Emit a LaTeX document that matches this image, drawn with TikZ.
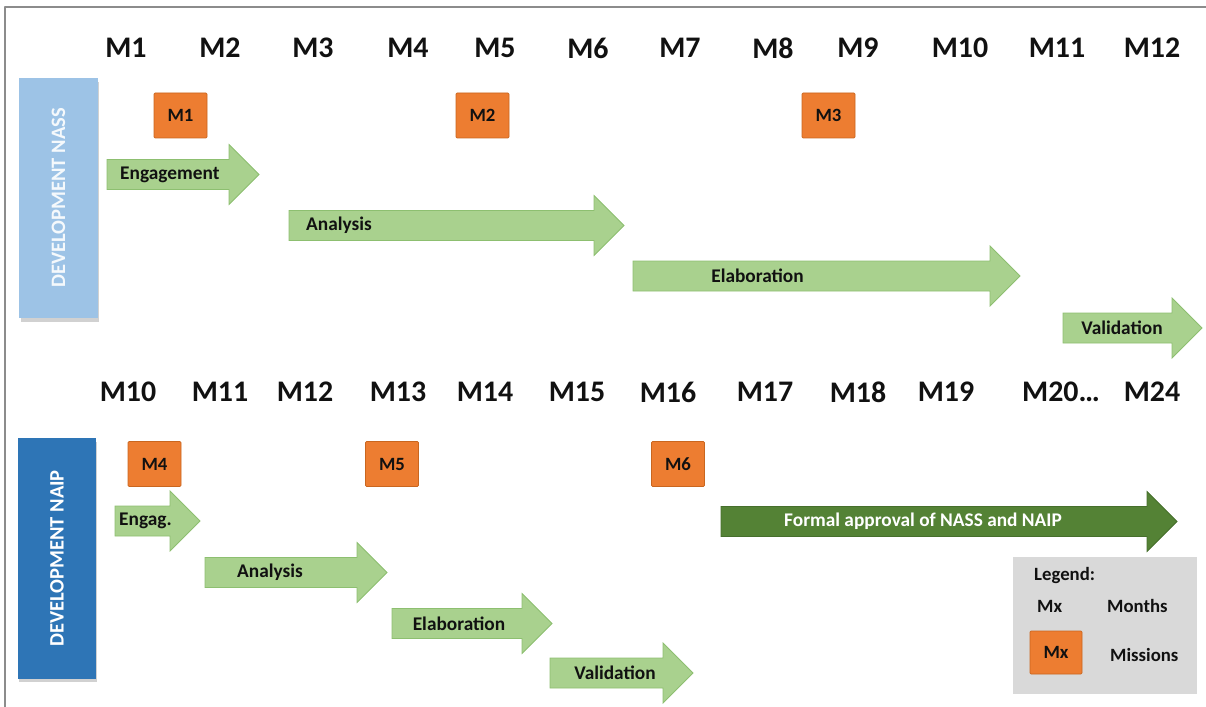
\documentclass[tikz,border=0pt]{standalone}
\usepackage{fontspec}
\setmainfont{Carlito}
\usetikzlibrary{shadows}
\definecolor{ink}{HTML}{111111}
\definecolor{frame}{HTML}{8C8C8C}
\definecolor{nassblue}{HTML}{9DC3E6}
\definecolor{naipblue}{HTML}{2E75B6}
\definecolor{missionfill}{HTML}{ED7D31}
\definecolor{missionline}{HTML}{C9661F}
\definecolor{phasefill}{HTML}{A9D18E}
\definecolor{phaseline}{HTML}{8DBF70}
\definecolor{approvalfill}{HTML}{548235}
\definecolor{approvalline}{HTML}{466F2C}
\definecolor{legendgray}{HTML}{D9D9D9}
\tikzset{
  month/.style={font=\bfseries\fontsize{25.5}{28}\selectfont, text=ink, inner sep=0pt},
  devbar/.style={rotate=90, minimum width=7.2cm, minimum height=2.34cm, inner sep=0pt,
    font=\bfseries\fontsize{17.5}{19}\selectfont,
    drop shadow={shadow xshift=1.2pt, shadow yshift=-3pt, opacity=0.3, fill=black!60}},
  missionbox/.style={draw=missionline, fill=missionfill, line width=0.6pt, rounded corners=1pt,
    minimum width=1.59cm, minimum height=1.35cm, inner sep=0pt,
    font=\bfseries\fontsize{16}{18}\selectfont, text=ink},
  phase/.style={draw=phaseline, fill=phasefill, line width=0.7pt, line join=miter},
  approval/.style={draw=approvalline, fill=approvalfill, line width=0.7pt, line join=miter},
  phasetext/.style={font=\bfseries\fontsize{16.5}{18}\selectfont, text=ink, inner sep=0pt},
  legendtext/.style={font=\bfseries\fontsize{16}{18}\selectfont, text=ink, inner sep=0pt},
}
% style, name, tail x, tip x, centre y, label options, label x, label
\newcommand{\phasearrow}[8]{%
  \draw[#1] (#3,#5-15) -- (#4-30,#5-15) -- (#4-30,#5-30) -- (#4,#5)
    -- (#4-30,#5+30) -- (#4-30,#5+15) -- (#3,#5+15) -- cycle;
  \node[phasetext,#6] (#2) at (#7,#5) {#8};
}
\newcommand{\missionat}[3]{%
  \node[missionbox] (#1) at (#2) {#3};
}

\begin{document}
\begin{tikzpicture}[x=0.03cm, y=-0.03cm, line cap=round, line join=round]
\path[use as bounding box] (0,0) rectangle (1206,707);
\draw[frame,line width=1pt] (5,707) -- (5,7) -- (1206,7);

% month scales
\foreach \x [count=\i] in {126,220,313,408,495,588,680,773,858,960,1057,1152}{
  \node[month] (top\i) at (\x,48) {M\i};
}
\foreach \x/\t [count=\i] in {128/M10,220/M11,305/M12,398/M13,485/M14,577/M15,
    668/M16,765/M17,858/M18,946/M19,1061/M20\ldots,1152/M24}{
  \node[month] (low\i) at (\x,392) {\t};
}

% development bars
\node[devbar,fill=nassblue,text=white!90!nassblue] (nass) at (58.5,198) {DEVELOPMENT NASS};
\node[devbar,fill=naipblue,text=white] (naip) at (57,558.5) {DEVELOPMENT NAIP};

% missions
\missionat{mission1}{180.5,115.5}{M1}
\missionat{mission2}{482.5,115.5}{M2}
\missionat{mission3}{828.5,115.5}{M3}
\missionat{mission4}{154.5,464}{M4}
\missionat{mission5}{392,464}{M5}
\missionat{mission6}{678,464}{M6}

% NASS phases
\phasearrow{phase}{engagement}{107}{259}{174.5}{anchor=west}{120}{Engagement}
\phasearrow{phase}{analysis}{289}{624}{225.5}{anchor=west}{306}{Analysis}
\phasearrow{phase}{elaboration}{633}{1020}{276}{}{757.5}{Elaboration}
\phasearrow{phase}{validation}{1063}{1202}{328}{}{1122}{Validation}

% NAIP phases
\phasearrow{phase}{engag}{115}{200}{521}{anchor=west}{119}{Engag.}
\phasearrow{phase}{analysis2}{205}{387}{572.5}{}{270}{Analysis}
\phasearrow{phase}{elaboration2}{392}{552}{623.5}{}{459}{Elaboration}
\phasearrow{phase}{validation2}{550}{693}{673}{}{615}{Validation}
\phasearrow{approval}{approval}{721}{1177}{521.5}{text=white}{923}{Formal approval of NASS and NAIP}

% legend
\path[fill=legendgray] (1013,557) rectangle (1197,694);
\node[legendtext,anchor=west] (legendtitle) at (1034,576) {Legend:};
\node[legendtext,anchor=west] (legendmx) at (1037,606) {Mx};
\node[legendtext,anchor=west] (legendmonths) at (1107,606) {Months};
\node[missionbox,minimum width=1.56cm,minimum height=1.29cm] (legendbox) at (1056,652.5) {Mx};
\node[legendtext,anchor=west] (legendmissions) at (1110,655) {Missions};
\end{tikzpicture}
\end{document}
